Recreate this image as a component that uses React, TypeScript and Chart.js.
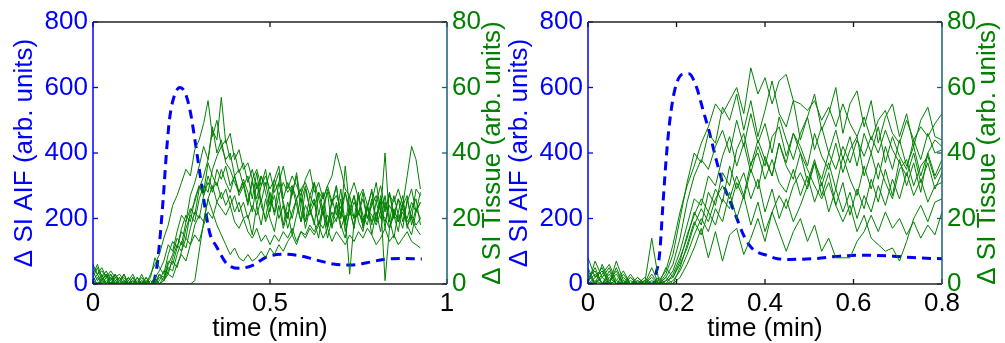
import React, { useEffect, useRef } from "react";
import { Chart, registerables } from "chart.js";

Chart.register(...registerables);

const FONT = "'Liberation Sans', Arial, Helvetica, sans-serif";
const BLUE = "#0000ff";
const GREEN = "#008000";
const RIGHT_AXIS = "#1b5e74";

// ---------- shared tick labels ----------
const aifTicks = [0, 200, 400, 600, 800];
const tissueTicks = [0, 20, 40, 60, 80];
const aifTickLabels = ["0", "200", "400", "600", "800"];
const tissueTickLabels = ["0", "20", "40", "60", "80"];

// ---------- LEFT PANEL ----------
const leftXTicks = [0, 0.5, 1];
const leftXTickLabels = ["0", "0.5", "1"];
const leftSampleStep = 0.0125; // min between tissue samples

const leftAifTime = [0, 0.165, 0.175, 0.184, 0.198, 0.208, 0.217, 0.226, 0.245, 0.259, 0.274, 0.288, 0.302, 0.316, 0.33, 0.349, 0.377, 0.415, 0.453, 0.491, 0.538, 0.585, 0.632, 0.679, 0.726, 0.774, 0.821, 0.868, 0.929];
const leftAifValue = [0, 0, 20, 83, 256, 409, 510, 561, 600, 587, 531, 439, 337, 236, 155, 114, 63, 48, 58, 83, 91, 86, 73, 61, 58, 65, 75, 78, 76];

const leftTissue1 = [4, 1, 3, 0, 2, 0, 1, 3, 0, 1, 0, 2, 0, 3, 6, 9, 14, 18, 24, 27, 31, 35, 33, 41, 44, 49, 56, 45, 50, 42, 38, 40, 33, 35, 30, 33, 26, 34, 25, 31, 24, 32, 36, 26, 31, 27, 34, 25, 30, 23, 31, 26, 21, 29, 24, 30, 20, 28, 23, 27, 21, 28, 20, 26, 19, 27, 22, 28, 20, 26, 19, 25, 29, 22, 28];
const leftTissue2 = [2, 5, 1, 3, 0, 2, 0, 1, 0, 2, 0, 0, 1, 0, 2, 4, 7, 12, 10, 16, 21, 19, 27, 31, 36, 42, 38, 47, 44, 57, 43, 46, 38, 41, 35, 37, 32, 35, 30, 33, 29, 32, 27, 31, 28, 30, 26, 29, 31, 27, 24, 28, 26, 30, 25, 27, 23, 28, 21, 25, 22, 26, 20, 24, 27, 22, 19, 24, 21, 26, 23, 20, 25, 22, 25];
const leftTissue3 = [5, 3, 4, 2, 3, 1, 2, 0, 2, 0, 1, 0, 2, 0, 0, 3, 1, 6, 9, 14, 12, 19, 23, 21, 29, 33, 38, 48, 40, 44, 37, 35, 31, 28, 32, 28, 22, 31, 24, 20, 28, 21, 27, 18, 25, 20, 26, 29, 19, 23, 26, 18, 24, 17, 22, 19, 26, 16, 22, 27, 19, 16, 24, 18, 25, 20, 27, 17, 23, 19, 24, 27, 18, 23, 20];
const leftTissue4 = [3, 6, 2, 4, 1, 3, 1, 2, 0, 0, 2, 0, 0, 1, 0, 1, 4, 3, 8, 12, 10, 17, 21, 19, 26, 30, 28, 35, 39, 42, 44, 38, 40, 34, 37, 31, 35, 29, 33, 30, 34, 28, 31, 36, 29, 33, 30, 27, 32, 35, 28, 31, 26, 30, 33, 40, 35, 29, 27, 31, 26, 29, 24, 28, 25, 30, 23, 27, 25, 29, 24, 33, 42, 38, 29];
const leftTissue5 = [1, 0, 2, 0, 3, 0, 2, 0, 1, 3, 0, 1, 0, 0, 1, 0, 2, 5, 4, 9, 13, 11, 17, 22, 20, 27, 31, 28, 35, 32, 36, 30, 33, 28, 31, 25, 32, 24, 30, 35, 26, 22, 31, 25, 20, 30, 24, 19, 29, 23, 18, 28, 22, 17, 26, 21, 29, 18, 27, 20, 28, 17, 23, 29, 19, 26, 17, 28, 21, 16, 25, 18, 15, 22, 25];
const leftTissue6 = [0, 2, 0, 1, 0, 1, 0, 3, 0, 1, 0, 0, 2, 0, 0, 2, 1, 4, 7, 5, 10, 14, 12, 18, 21, 19, 26, 30, 25, 28, 24, 27, 22, 25, 20, 21, 15, 24, 18, 26, 20, 16, 24, 17, 22, 15, 21, 26, 17, 23, 19, 14, 24, 28, 17, 25, 18, 14, 23, 17, 27, 19, 24, 15, 22, 16, 25, 20, 14, 22, 27, 17, 23, 26, 18];
const leftTissue7 = [2, 0, 1, 3, 0, 0, 1, 0, 2, 0, 0, 3, 0, 0, 2, 0, 1, 3, 2, 6, 9, 7, 12, 15, 13, 18, 22, 20, 25, 23, 21, 24, 19, 17, 20, 16, 14, 17, 13, 15, 12, 15, 13, 16, 14, 17, 13, 16, 15, 18, 16, 19, 17, 21, 18, 20, 22, 19, 23, 20, 22, 19, 23, 21, 18, 22, 20, 17, 21, 19, 22, 18, 20, 17, 15];
const leftTissue8 = [0, 0, 1, 0, 2, 0, 0, 1, 0, 0, 0, 0, 0, 0, 0, 0, 0, 0, 0, 0, 0, 0, 0, 1, 10, 19, 26, 22, 18, 15, 12, 9, 11, 8, 7, 9, 7, 8, 10, 8, 11, 9, 12, 10, 13, 15, 12, 16, 14, 17, 15, 18, 14, 17, 13, 16, 14, 12, 15, 13, 16, 14, 17, 15, 12, 14, 17, 13, 15, 12, 14, 16, 13, 12, 11];
const leftTissue9 = [6, 3, 5, 2, 4, 2, 3, 1, 0, 2, 0, 1, 0, 2, 8, 5, 3, 9, 13, 11, 17, 21, 19, 26, 30, 27, 33, 29, 31, 26, 29, 24, 27, 22, 25, 20, 24, 21, 26, 19, 23, 27, 20, 24, 17, 22, 26, 19, 24, 21, 25, 18, 22, 14, 20, 24, 17, 21, 3, 19, 22, 18, 24, 19, 21, 25, 1, 17, 22, 20, 23, 19, 21, 18, 20];
const leftTissue10 = [1, 3, 0, 2, 0, 3, 0, 0, 1, 0, 2, 0, 1, 0, 0, 3, 2, 7, 6, 11, 16, 14, 22, 25, 30, 28, 37, 33, 30, 35, 31, 28, 33, 27, 30, 24, 31, 26, 33, 28, 22, 30, 34, 24, 20, 28, 33, 22, 19, 27, 31, 21, 28, 18, 25, 30, 20, 36, 23, 17, 27, 21, 18, 25, 31, 22, 40, 19, 27, 21, 17, 26, 20, 29, 27];

// ---------- RIGHT PANEL ----------
const rightXTicks = [0, 0.2, 0.4, 0.6, 0.8];
const rightXTickLabels = ["0", "0.2", "0.4", "0.6", "0.8"];
const rightSampleStep = 0.016;

const rightAifTime = [0, 0.148, 0.154, 0.162, 0.169, 0.177, 0.185, 0.196, 0.213, 0.228, 0.245, 0.26, 0.275, 0.29, 0.305, 0.32, 0.335, 0.35, 0.365, 0.38, 0.403, 0.426, 0.456, 0.516, 0.569, 0.629, 0.689, 0.742, 0.8];
const rightAifValue = [0, 0, 33, 94, 236, 388, 500, 592, 640, 642, 602, 531, 460, 378, 307, 256, 205, 154, 118, 99, 88, 78, 75, 78, 85, 88, 85, 80, 77];

const rightTissue1 = [0, 7, 2, 5, 0, 3, 0, 0, 1, 0, 1, 4, 12, 22, 30, 36, 43, 48, 55, 52, 56, 60, 52, 66, 58, 63, 55, 62, 64, 56, 55, 53, 56, 50, 54, 48, 55, 49, 45, 51, 44, 50, 53, 46, 43, 50, 44, 48, 45, 49, 52];
const rightTissue2 = [3, 0, 6, 1, 4, 0, 2, 0, 0, 3, 0, 3, 9, 20, 31, 40, 37, 46, 43, 54, 50, 58, 47, 56, 45, 53, 62, 52, 48, 56, 44, 51, 58, 47, 52, 60, 46, 55, 59, 48, 56, 43, 51, 55, 45, 52, 42, 50, 54, 45, 44];
const rightTissue3 = [8, 2, 4, 0, 7, 1, 0, 2, 0, 0, 0, 2, 6, 14, 25, 33, 38, 35, 42, 47, 40, 50, 42, 52, 43, 49, 40, 51, 44, 38, 46, 51, 41, 48, 40, 47, 38, 45, 36, 46, 40, 48, 37, 45, 39, 35, 44, 38, 46, 40, 41];
const rightTissue4 = [1, 5, 0, 3, 0, 2, 0, 1, 0, 5, 0, 1, 4, 10, 18, 26, 24, 33, 30, 39, 45, 36, 43, 34, 42, 36, 45, 48, 39, 46, 42, 36, 46, 39, 35, 43, 34, 41, 45, 33, 40, 32, 42, 35, 44, 36, 42, 33, 40, 44, 42];
const rightTissue5 = [5, 0, 3, 6, 1, 0, 3, 0, 1, 0, 2, 0, 3, 8, 14, 22, 18, 28, 24, 34, 30, 41, 46, 36, 44, 38, 33, 43, 36, 32, 40, 31, 38, 30, 37, 29, 39, 32, 27, 36, 29, 37, 31, 26, 35, 38, 30, 36, 39, 32, 36];
const rightTissue6 = [2, 4, 0, 1, 3, 0, 0, 2, 0, 1, 0, 5, 2, 6, 11, 18, 23, 19, 26, 30, 26, 33, 27, 37, 40, 32, 38, 31, 28, 35, 27, 33, 25, 31, 22, 29, 22, 28, 20, 27, 22, 30, 24, 32, 26, 34, 27, 32, 25, 30, 31];
const rightTissue7 = [0, 1, 0, 4, 0, 1, 0, 0, 2, 0, 0, 0, 1, 4, 9, 15, 20, 16, 23, 19, 28, 20, 27, 18, 25, 16, 22, 27, 23, 30, 34, 29, 37, 32, 40, 35, 42, 37, 44, 39, 45, 40, 47, 41, 37, 33, 40, 31, 37, 29, 34];
const rightTissue8 = [4, 0, 2, 0, 5, 0, 1, 0, 0, 2, 0, 2, 0, 5, 12, 19, 15, 22, 18, 26, 23, 31, 26, 35, 29, 39, 33, 43, 37, 46, 40, 35, 30, 26, 31, 24, 19, 24, 16, 21, 14, 12, 10, 11, 7, 13, 20, 24, 19, 25, 26];
const rightTissue9 = [1, 3, 0, 2, 0, 0, 2, 0, 0, 14, 1, 0, 0, 2, 6, 11, 17, 8, 16, 7, 15, 17, 9, 14, 20, 13, 22, 16, 10, 16, 20, 13, 18, 10, 14, 8, 8, 8, 13, 16, 21, 16, 22, 17, 20, 15, 19, 14, 18, 15, 22];
const rightTissue10 = [0, 2, 5, 0, 1, 4, 0, 1, 0, 0, 0, 1, 2, 7, 15, 21, 26, 22, 29, 25, 36, 29, 34, 26, 32, 22, 29, 20, 26, 19, 24, 30, 37, 27, 34, 24, 31, 21, 29, 23, 32, 25, 35, 27, 38, 30, 37, 28, 40, 33, 38];

type PanelCfg = {
  xMax: number;
  xTicks: number[];
  xTickLabels: string[];
  step: number;
  aifTime: number[];
  aifValue: number[];
  tissue: number[][];
  leftAxisWidth: number;
  rightAxisWidth: number;
  blueTitleX: number;
  greenTitleX: number;
};

const leftCfg: PanelCfg = {
  xMax: 1,
  xTicks: leftXTicks,
  xTickLabels: leftXTickLabels,
  step: leftSampleStep,
  aifTime: leftAifTime,
  aifValue: leftAifValue,
  tissue: [leftTissue1, leftTissue2, leftTissue3, leftTissue4, leftTissue5, leftTissue6, leftTissue7, leftTissue8, leftTissue9, leftTissue10],
  leftAxisWidth: 93,
  rightAxisWidth: 63,
  blueTitleX: 32,
  greenTitleX: 500,
};

const rightCfg: PanelCfg = {
  xMax: 0.8,
  xTicks: rightXTicks,
  xTickLabels: rightXTickLabels,
  step: rightSampleStep,
  aifTime: rightAifTime,
  aifValue: rightAifValue,
  tissue: [rightTissue1, rightTissue2, rightTissue3, rightTissue4, rightTissue5, rightTissue6, rightTissue7, rightTissue8, rightTissue9, rightTissue10],
  leftAxisWidth: 83,
  rightAxisWidth: 63,
  blueTitleX: 22,
  greenTitleX: 490,
};

function makeDecor(cfg: PanelCfg) {
  return {
    id: "decor",
    afterDraw(chart: any) {
      const { ctx, chartArea: a, scales } = chart;
      const seg = (x1: number, y1: number, x2: number, y2: number) => {
        ctx.beginPath();
        ctx.moveTo(x1, y1);
        ctx.lineTo(x2, y2);
        ctx.stroke();
      };
      ctx.save();
      ctx.lineWidth = 1.3;
      // inward ticks
      ctx.strokeStyle = BLUE;
      aifTicks.forEach((v) => {
        const py = scales.y.getPixelForValue(v);
        seg(a.left, py, a.left + 5, py);
      });
      ctx.strokeStyle = RIGHT_AXIS;
      tissueTicks.forEach((v) => {
        const py = scales.y1.getPixelForValue(v);
        seg(a.right - 5, py, a.right, py);
      });
      ctx.strokeStyle = "#111";
      cfg.xTicks.forEach((v) => {
        const px = scales.x.getPixelForValue(v);
        seg(px, a.bottom, px, a.bottom - 5);
        seg(px, a.top, px, a.top + 5);
      });
      // box
      ctx.lineWidth = 1.5;
      ctx.strokeStyle = "#222";
      seg(a.left, a.top, a.right, a.top);
      seg(a.left, a.bottom, a.right, a.bottom);
      ctx.strokeStyle = BLUE;
      seg(a.left, a.top, a.left, a.bottom);
      ctx.strokeStyle = RIGHT_AXIS;
      seg(a.right, a.top, a.right, a.bottom);
      // titles
      ctx.font = `26px ${FONT}`;
      ctx.textAlign = "center";
      ctx.textBaseline = "alphabetic";
      ctx.fillStyle = "#000";
      ctx.fillText("time (min)", (a.left + a.right) / 2, 336);
      const midY = (a.top + a.bottom) / 2;
      ctx.save();
      ctx.translate(cfg.blueTitleX, midY);
      ctx.rotate(-Math.PI / 2);
      ctx.fillStyle = BLUE;
      ctx.fillText("\u0394 SI AIF (arb. units)", 0, 0);
      ctx.restore();
      ctx.save();
      ctx.translate(cfg.greenTitleX, midY);
      ctx.rotate(-Math.PI / 2);
      ctx.fillStyle = GREEN;
      ctx.fillText("\u0394 SI Tissue (arb. units)", 0, 0);
      ctx.restore();
      ctx.restore();
    },
  };
}

function Panel({ cfg, left, width }: { cfg: PanelCfg; left: number; width: number }) {
  const ref = useRef<HTMLCanvasElement>(null);
  useEffect(() => {
    const tissueSets = cfg.tissue.map((arr) => ({
      data: arr.map((v, i) => ({ x: i * cfg.step, y: v })),
      borderColor: GREEN,
      borderWidth: 1,
      pointRadius: 0,
      tension: 0,
      yAxisID: "y1",
    }));
    const aifSet = {
      data: cfg.aifTime.map((t, i) => ({ x: t, y: cfg.aifValue[i] })),
      borderColor: BLUE,
      borderWidth: 3,
      borderDash: [9, 6],
      pointRadius: 0,
      cubicInterpolationMode: "monotone",
      yAxisID: "y",
    };
    const font = { family: FONT, size: 26 };
    const chart = new Chart(ref.current as HTMLCanvasElement, {
      type: "line",
      data: { datasets: [...tissueSets, aifSet] as any },
      options: {
        animation: false,
        responsive: false,
        maintainAspectRatio: false,
        layout: { padding: { top: 22, left: 0, right: 0, bottom: 0 } },
        plugins: { legend: { display: false }, tooltip: { enabled: false } },
        scales: {
          x: {
            type: "linear",
            min: 0,
            max: cfg.xMax,
            grid: { display: false, drawTicks: false },
            border: { display: false },
            afterBuildTicks: (s: any) => {
              s.ticks = cfg.xTicks.map((v) => ({ value: v }));
            },
            ticks: {
              color: "#000",
              font,
              padding: 4,
              maxRotation: 0,
              autoSkip: false,
              callback: (v: any) => {
                const i = cfg.xTicks.findIndex((t) => Math.abs(t - Number(v)) < 1e-9);
                return i >= 0 ? cfg.xTickLabels[i] : "";
              },
            },
            afterFit: (s: any) => {
              s.height = 59;
            },
          },
          y: {
            type: "linear",
            position: "left",
            min: 0,
            max: 800,
            grid: { display: false, drawTicks: false },
            border: { display: false },
            afterBuildTicks: (s: any) => {
              s.ticks = aifTicks.map((v) => ({ value: v }));
            },
            ticks: {
              color: BLUE,
              font,
              padding: 5,
              autoSkip: false,
              callback: (v: any) => aifTickLabels[aifTicks.indexOf(Number(v))] ?? "",
            },
            afterFit: (s: any) => {
              s.width = cfg.leftAxisWidth;
            },
          },
          y1: {
            type: "linear",
            position: "right",
            min: 0,
            max: 80,
            grid: { display: false, drawTicks: false },
            border: { display: false },
            afterBuildTicks: (s: any) => {
              s.ticks = tissueTicks.map((v) => ({ value: v }));
            },
            ticks: {
              color: GREEN,
              font,
              padding: 5,
              autoSkip: false,
              callback: (v: any) => tissueTickLabels[tissueTicks.indexOf(Number(v))] ?? "",
            },
            afterFit: (s: any) => {
              s.width = cfg.rightAxisWidth;
            },
          },
        },
      } as any,
      plugins: [makeDecor(cfg)],
    });
    return () => chart.destroy();
  }, [cfg]);
  return (
    <canvas
      ref={ref}
      width={width}
      height={343}
      style={{ position: "absolute", left, top: 0, width, height: 343 }}
    />
  );
}

export default function App() {
  return (
    <div style={{ position: "absolute", left: 0, top: 0, width: 1005, height: 343, background: "#fff", overflow: "hidden" }}>
      <Panel cfg={leftCfg} left={0} width={510} />
      <Panel cfg={rightCfg} left={505} width={500} />
    </div>
  );
}
